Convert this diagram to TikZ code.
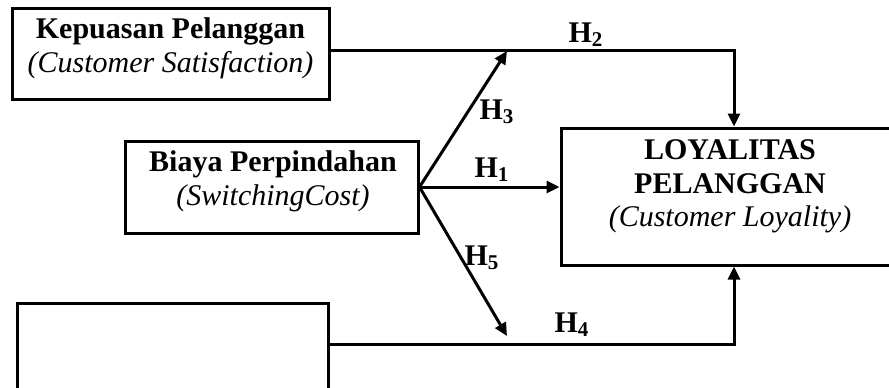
\documentclass[tikz,border=0pt]{standalone}
\usepackage{fontspec}
\setmainfont{Liberation Serif}
\usetikzlibrary{arrows.meta,calc}
\tikzset{
  box/.style={draw=black, line width=1.5pt, fill=white, inner sep=0pt},
  lbl/.style={align=center, inner sep=0pt, font=\fontsize{15}{16.8}\selectfont},
  hyp/.style={inner sep=0pt, font=\fontsize{15}{16.8}\selectfont\bfseries},
  conn/.style={draw=black, line width=1.5pt},
  arr/.style={conn, -{Triangle[length=6.5pt,width=6pt]}}
}
\begin{document}
\begin{tikzpicture}[x=0.5pt,y=-0.5pt]
\useasboundingbox (0,0) rectangle (889,387);
\clip (0,0) rectangle (889,387);
\fill[white] (0,0) rectangle (889,387);
% boxes
\node[box, minimum width=158.5pt, minimum height=45.5pt] (kp) at (170.5,53.5) {};
\node[lbl] (kpt) at (170.5,48) {\textbf{Kepuasan Pelanggan}\\\textit{(Customer Satisfaction)}};
\node[box, minimum width=146.5pt, minimum height=46pt] (bc) at (271.5,187) {};
\node[lbl] (bct) at (273,181) {\textbf{Biaya Perpindahan}\\\textit{(SwitchingCost)}};
\node[box, minimum width=173pt, minimum height=68.5pt] (lo) at (734,196.5) {};
\node[lbl] (lot) at (730,186.5) {\textbf{LOYALITAS}\\\textbf{PELANGGAN}\\\textit{(Customer Loyality)}};
\node[box, minimum width=155.5pt, minimum height=46pt] (bb) at (172.5,349) {};
% coordinates
\coordinate (kpo) at ([yshift=1.75pt]kp.east);
\coordinate (bbo) at ([yshift=2.5pt]bb.east);
\coordinate (h3e) at (507,51);
\coordinate (h5e) at (507,336);
% connectors
\draw[arr] (kpo) -- (kpo -| lo.north) -- (lo.north);
\draw[arr] (bbo) -- (bbo -| lo.south) -- (lo.south);
\draw[arr] (bc.east) -- (bc.east -| lo.west);
\draw[arr] (bc.east) -- (h3e);
\draw[arr] (bc.east) -- (h5e);
% labels
\node[hyp] (h2) at (586,35) {H\textsubscript{2}};
\node[hyp] (h3) at (497,112) {H\textsubscript{3}};
\node[hyp] (h1) at (492,170) {H\textsubscript{1}};
\node[hyp] (h5) at (482,258) {H\textsubscript{5}};
\node[hyp] (h4) at (572,325) {H\textsubscript{4}};
\end{tikzpicture}
\end{document}
